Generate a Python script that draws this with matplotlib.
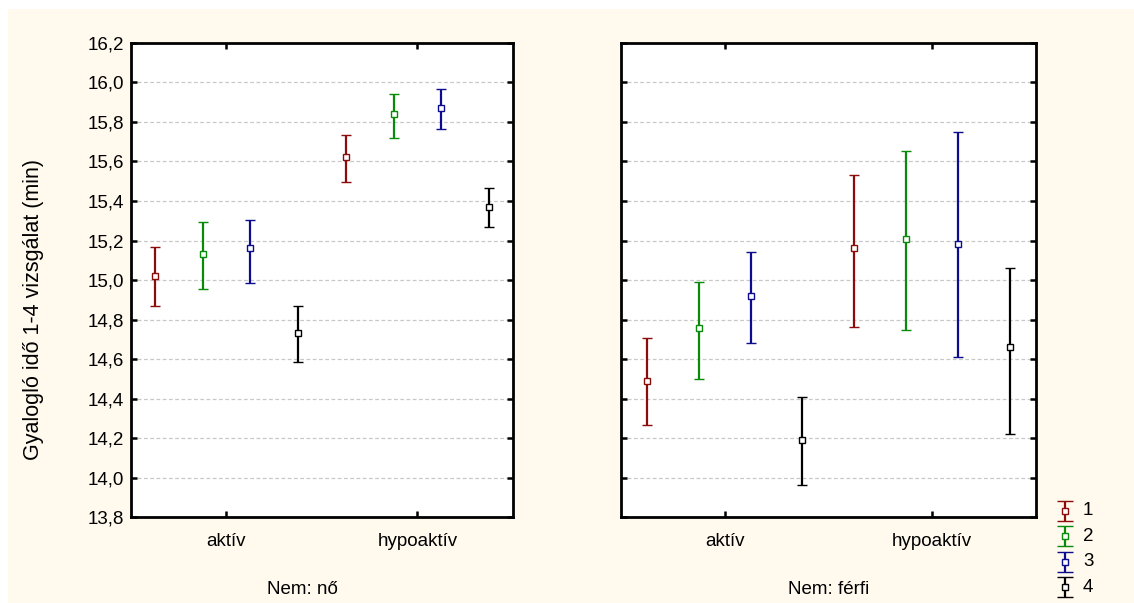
import matplotlib
matplotlib.use("Agg")
import matplotlib.pyplot as plt
from matplotlib.patches import Rectangle

plt.rcParams['font.family'] = ['Liberation Sans', 'DejaVu Sans']

# ---- data ----
categories = ["aktív", "hypoaktív"]
panels = ["Nem: nő", "Nem: férfi"]
series = ["1", "2", "3", "4"]
colors = ["#8c0c0c", "#0a8a0a", "#0c0c8c", "#000000"]

# means[panel][series][category]
means_no = [[15.02, 15.62], [15.13, 15.84], [15.16, 15.87], [14.73, 15.37]]
upper_no = [[15.165, 15.733], [15.295, 15.943], [15.304, 15.968], [14.870, 15.467]]
lower_no = [[14.868, 15.495], [14.955, 15.721], [14.986, 15.766], [14.587, 15.268]]

means_ferfi = [[14.49, 15.16], [14.76, 15.21], [14.92, 15.18], [14.19, 14.66]]
upper_ferfi = [[14.707, 15.533], [14.988, 15.652], [15.142, 15.751], [14.407, 15.063]]
lower_ferfi = [[14.266, 14.762], [14.501, 14.749], [14.681, 14.609], [13.961, 14.219]]

yticks = [13.8, 14.0, 14.2, 14.4, 14.6, 14.8, 15.0, 15.2, 15.4, 15.6, 15.8, 16.0, 16.2]
offsets = [-0.375, -0.125, 0.125, 0.375]

W, H = 1134, 603
fig = plt.figure(figsize=(W / 100, H / 100), dpi=100, facecolor="white")
fig.patches.append(Rectangle((8 / W, 0), 1 - 8 / W, (H - 9) / H,
                             transform=fig.transFigure, facecolor="#fff9ee",
                             edgecolor="none", zorder=-10))


def px_axes(x0, y0, x1, y1):
    return fig.add_axes([x0 / W, 1 - y1 / H, (x1 - x0) / W, (y1 - y0) / H])


ax1 = px_axes(131, 42.8, 513, 517.3)
ax2 = px_axes(621, 42.8, 1035.7, 517.3)

datasets = [(means_no, upper_no, lower_no), (means_ferfi, upper_ferfi, lower_ferfi)]

for k, (ax, (m, up, lo)) in enumerate(zip([ax1, ax2], datasets)):
    ax.set_facecolor("white")
    for s in range(len(series)):
        xs = [i + 0.5 + offsets[s] for i in range(len(categories))]
        ys = m[s]
        err = [[ys[i] - lo[s][i] for i in range(len(ys))],
               [up[s][i] - ys[i] for i in range(len(ys))]]
        ax.errorbar(xs, ys, yerr=err, fmt="s", color=colors[s], ecolor=colors[s],
                    elinewidth=1.6, capsize=3.4, capthick=1.6, markersize=4.6,
                    markerfacecolor="white", markeredgecolor=colors[s],
                    markeredgewidth=1.0, zorder=3)
    ax.set_xlim(0, 2)
    ax.set_ylim(13.8, 16.2)
    ax.set_xticks([0.5, 1.5])
    ax.set_xticklabels(categories, fontsize=13.5)
    ax.set_yticks(yticks)
    if k == 0:
        ax.set_yticklabels([f"{v:.1f}".replace(".", ",") for v in yticks], fontsize=13.5)
    else:
        ax.set_yticklabels([])
    ax.tick_params(axis="both", direction="in", length=4.5, width=1.8,
                   top=True, right=True, left=True, bottom=True)
    ax.tick_params(axis="x", pad=11)
    ax.tick_params(axis="y", pad=5)
    ax.grid(axis="y", color="#c8c8c8", linestyle=(0, (3, 2)), linewidth=0.9)
    ax.set_axisbelow(True)
    for sp in ax.spines.values():
        sp.set_linewidth(2.0)
        sp.set_color("black")

fig.text(302 / W, 1 - 590 / H, panels[0], ha="center", va="center", fontsize=13.5)
fig.text(829 / W, 1 - 590 / H, panels[1], ha="center", va="center", fontsize=13.5)
fig.text(34 / W, 1 - 309 / H, "Gyalogló idő 1-4 vizsgálat (min)", rotation=90,
         ha="center", va="center", fontsize=15.5)

# legend
axl = px_axes(1045, 498, 1125, 600)
axl.set_xlim(0, 80)
axl.set_ylim(0, 4)
axl.axis("off")
for s in range(len(series)):
    yc = 3.5 - s
    axl.errorbar([20], [yc], yerr=[[0.39], [0.39]], fmt="s", color=colors[s],
                 ecolor=colors[s], elinewidth=1.6, capsize=5.8, capthick=1.6,
                 markersize=4.3, markerfacecolor="white", markeredgecolor=colors[s],
                 markeredgewidth=1.0)
    axl.text(38, yc, series[s], ha="left", va="center", fontsize=13.5)

fig.savefig("out.png", dpi=100, facecolor="white")
